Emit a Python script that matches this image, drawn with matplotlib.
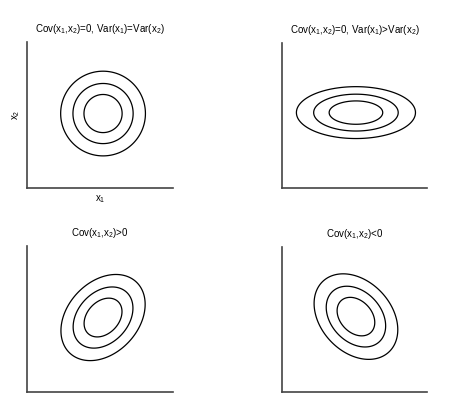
import numpy as np
import matplotlib
matplotlib.use("Agg")
import matplotlib.pyplot as plt

plt.rcParams['font.family'] = ['Liberation Sans', 'DejaVu Sans']
plt.rcParams['mathtext.fontset'] = 'custom'
plt.rcParams['mathtext.rm'] = 'Liberation Sans'
plt.rcParams['mathtext.it'] = 'Liberation Sans'
plt.rcParams['mathtext.default'] = 'regular'

titles = [r'Cov(x$_1$,x$_2$)=0, Var(x$_1$)=Var(x$_2$)',
          r'Cov(x$_1$,x$_2$)=0, Var(x$_1$)>Var(x$_2$)',
          r'Cov(x$_1$,x$_2$)>0',
          r'Cov(x$_1$,x$_2$)<0']
means = [(0.52, 0.51), (0.51, 0.52), (0.52, 0.51), (0.51, 0.52)]
# covariance entries (var1, var2, cov) in axes-fraction units^2
var1 = [0.0841, 0.168, 0.0830, 0.0830]
var2 = [0.0841, 0.0320, 0.0870, 0.0870]
cov12 = [0.0, 0.0, 0.026, -0.026]
levels = [0.45, 0.71, 1.0]  # Mahalanobis radii of contour lines

positions = [(0.060, 0.530, 0.324, 0.365),
             (0.625, 0.530, 0.322, 0.3625),
             (0.060, 0.020, 0.324, 0.365),
             (0.625, 0.020, 0.322, 0.3625)]

fig = plt.figure(figsize=(4.51, 4.00), dpi=100)
g = np.linspace(0, 1, 400)
X, Y = np.meshgrid(g, g)
for i in range(4):
    ax = fig.add_axes(positions[i])
    S = np.array([[var1[i], cov12[i]], [cov12[i], var2[i]]])
    Si = np.linalg.inv(S)
    dx = X - means[i][0]
    dy = Y - means[i][1]
    D = Si[0, 0] * dx * dx + 2 * Si[0, 1] * dx * dy + Si[1, 1] * dy * dy
    ax.contour(X, Y, np.sqrt(D), levels=levels, colors='black', linewidths=0.9)
    ax.set_xlim(0, 1)
    ax.set_ylim(0, 1)
    ax.set_xticks([])
    ax.set_yticks([])
    for s in ['top', 'right']:
        ax.spines[s].set_visible(False)
    for s in ['left', 'bottom']:
        ax.spines[s].set_color('#444444')
        ax.spines[s].set_linewidth(1.2)
    ax.set_title(titles[i], fontsize=7, pad=7)
    if i == 0:
        ax.set_xlabel(r'x$_1$', fontsize=7, labelpad=4)
        ax.set_ylabel(r'x$_2$', fontsize=7, labelpad=4)

fig.savefig('out.png', dpi=100)
